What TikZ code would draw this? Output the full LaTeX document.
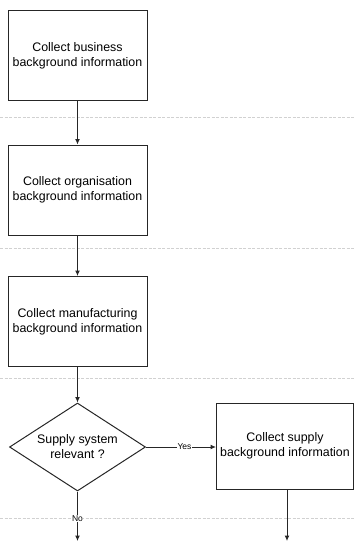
\documentclass[tikz,border=0pt]{standalone}
\usepackage{fontspec}
\setmainfont{Liberation Sans}
\usetikzlibrary{shapes.geometric,arrows.meta}
\begin{document}
\begin{tikzpicture}[x=1pt,y=-1pt,
  line width=1pt,
  every node/.style={text=black},
  stepbox/.style={draw=black!85, minimum width=139pt, minimum height=90pt,
    inner sep=0pt, align=center, font=\fontsize{12.4}{15}\selectfont},
  decision/.style={draw=black!85, diamond, aspect=1.55, inner sep=0pt,
    minimum width=136pt, minimum height=88pt, align=center,
    font=\fontsize{12.4}{15}\selectfont},
  flow/.style={draw=black!85, -{Latex[length=5.5pt,width=5pt]}},
  tag/.style={fill=white, inner sep=0.5pt, font=\fontsize{8.5}{10}\selectfont},
  rule/.style={draw=black!18, line width=0.6pt, dash pattern=on 3pt off 1.5pt}]
\useasboundingbox (0,0) rectangle (355,543);

% faint horizontal separators
\foreach \yy in {117,248,378,518}
  \draw[rule] (0,\yy) -- (355,\yy);

% process steps
\node[stepbox] (b1) at (77.5,55.5) {Collect business\\background information};
\node[stepbox] (b2) at (77.5,190) {Collect organisation\\background information};
\node[stepbox] (b3) at (77.5,321.5) {Collect manufacturing\\background information};
\node[decision] (d) at (77.5,447) {Supply system\\relevant ?};
\node[stepbox, minimum width=137pt, minimum height=86pt] (b4) at (285,446)
  {Collect supply\\background information};

% free ends of the outgoing arrows
\coordinate (noend) at (77.5,541);
\coordinate (supend) at (287,541);
\coordinate (supstart) at (287,489);

% connectors
\draw[flow] (b1) -- (b2);
\draw[flow] (b2) -- (b3);
\draw[flow] (b3) -- (d);
\draw[flow] (d.east) -- (d.east -| b4.west)
  node[tag, pos=0.55] {Yes};
\draw[flow] (d.south) -- (noend)
  node[tag, pos=0.54] {No};
\draw[flow] (supstart) -- (supend);
\end{tikzpicture}
\end{document}
